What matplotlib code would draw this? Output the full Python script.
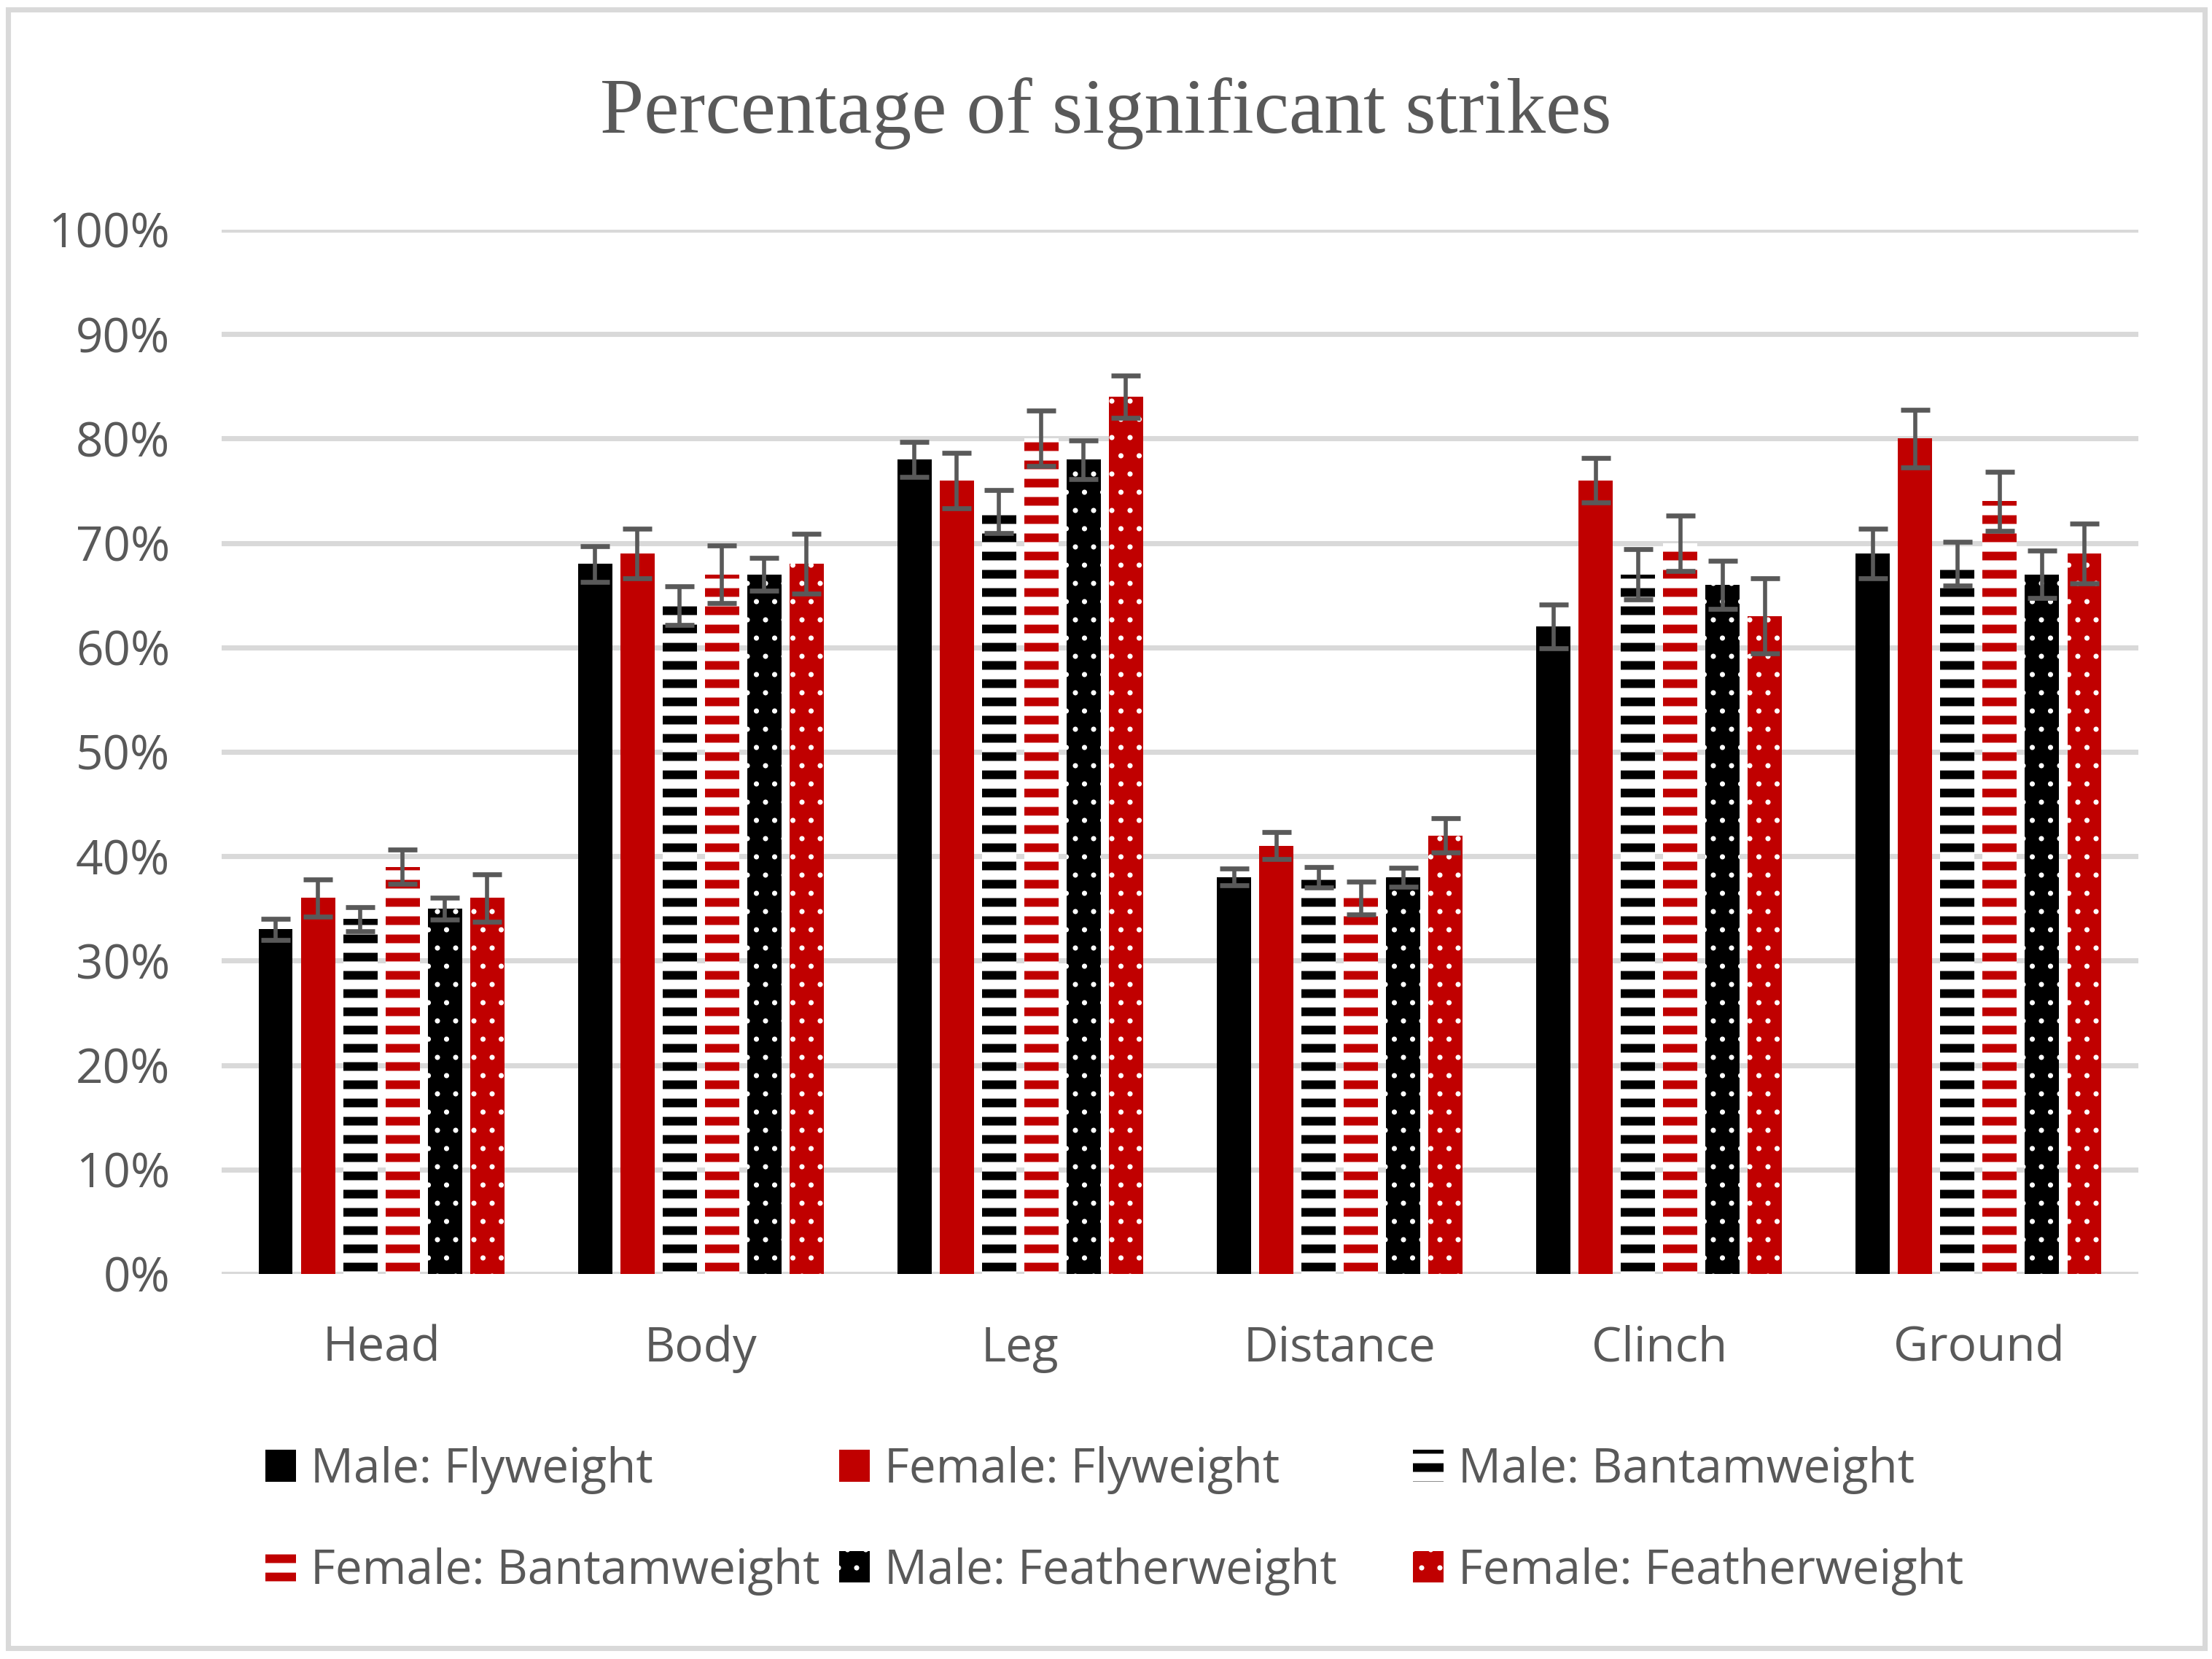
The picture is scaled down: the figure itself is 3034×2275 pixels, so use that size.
import matplotlib
matplotlib.use('Agg')
import matplotlib.pyplot as plt
from matplotlib.patches import Rectangle
import numpy as np

# Data (percent)
categories = ['Head', 'Body', 'Leg', 'Distance', 'Clinch', 'Ground']
series_labels = ['Male: Flyweight', 'Female: Flyweight', 'Male: Bantamweight',
                 'Female: Bantamweight', 'Male: Featherweight', 'Female: Featherweight']

male_fly = [33, 68, 78, 38, 62, 69]
female_fly = [36, 69, 76, 41, 76, 80]
male_bantam = [34, 64, 73, 38, 67, 68]
female_bantam = [39, 67, 80, 36, 70, 74]
male_feather = [35, 67, 78, 38, 66, 67]
female_feather = [36, 68, 84, 42, 63, 69]

male_fly_err = [1.0, 1.7, 1.7, 0.8, 2.1, 2.4]
female_fly_err = [1.8, 2.4, 2.65, 1.3, 2.15, 2.75]
male_bantam_err = [1.15, 1.85, 2.05, 1.0, 2.4, 2.1]
female_bantam_err = [1.65, 2.75, 2.65, 1.55, 2.65, 2.85]
male_feather_err = [1.05, 1.6, 1.85, 0.9, 2.3, 2.3]
female_feather_err = [2.25, 2.85, 2.05, 1.65, 3.6, 2.85]

values = [male_fly, female_fly, male_bantam, female_bantam, male_feather, female_feather]
errors = [male_fly_err, female_fly_err, male_bantam_err, female_bantam_err,
          male_feather_err, female_feather_err]

BLACK = '#000000'
RED = '#C00000'
GREY_TXT = '#595959'
GRID = '#D9D9D9'

# face colour, hatch colour, hatch, hatch linewidth
styles = [
    (BLACK, BLACK, None, 1.0),
    (RED, RED, None, 1.0),
    ('white', BLACK, '-', 5.7),
    ('white', RED, '-', 5.7),
    (BLACK, 'white', '.', 1.0),
    (RED, 'white', '.', 1.0),
]

FONT = 'Open Sans'
FS = 31.5

DPI = 150
W, H = 3034, 2275
fig = plt.figure(figsize=(W / DPI, H / DPI), dpi=DPI)
ax = fig.add_axes([304 / W, 528 / H, (2933 - 304) / W, (1747 - 315) / H])

x = np.arange(len(categories))
step = 0.1324
width = 0.107

bars = []
for i, (vals, errs) in enumerate(zip(values, errors)):
    face, hcol, hatch, hlw = styles[i]
    b = ax.bar(x + (i - 2.5) * step, vals, width, color=face, edgecolor=hcol,
               linewidth=0, hatch=hatch, label=series_labels[i],
               yerr=errs, error_kw=dict(ecolor=GREY_TXT, elinewidth=2.7,
                                        capsize=9.4, capthick=3.2))
    for p in b.patches:
        if hasattr(p, 'set_hatch_linewidth'):
            p.set_hatch_linewidth(hlw)
    bars.append(b)

ax.set_xlim(-0.5, len(categories) - 0.5)
ax.set_ylim(0, 100)
ax.set_yticks(range(0, 101, 10))
ax.set_yticklabels([f'{t}%' for t in range(0, 101, 10)])
ax.set_xticks(x)
ax.set_xticklabels(categories)
ax.set_axisbelow(True)
ax.grid(axis='y', color=GRID, linewidth=3.4)
ax.grid(axis='x', visible=False)
for s in ax.spines.values():
    s.set_visible(False)
ax.tick_params(axis='y', length=0, pad=34, labelsize=FS, labelcolor=GREY_TXT)
ax.tick_params(axis='x', length=0, pad=33.5, labelsize=FS, labelcolor=GREY_TXT)
for lab in ax.get_xticklabels() + ax.get_yticklabels():
    lab.set_fontfamily(FONT)

# Title
fig.text(0.5, (H - 182) / H, 'Percentage of significant strikes', ha='center',
         va='baseline', fontsize=52, family='Liberation Serif', color=GREY_TXT)

# Legend: three columns, two rows (row-wise order as in the original)
columns = [[0, 3], [1, 4], [2, 5]]
col_left = [364, 1151, 1938]
for col, xl in zip(columns, col_left):
    leg = fig.legend(handles=[bars[i] for i in col],
                     labels=[series_labels[i] for i in col],
                     loc='upper left', bbox_to_anchor=(xl / W, (H - 1983) / H),
                     ncol=1, frameon=False, borderpad=0, borderaxespad=0,
                     handlelength=0.64, handleheight=0.64, handletextpad=0.3,
                     labelspacing=1.11, prop={'family': FONT, 'size': FS})
    for t in leg.get_texts():
        t.set_color(GREY_TXT)
    for hnd, i in zip(leg.legend_handles, col):
        if hasattr(hnd, 'set_hatch_linewidth'):
            hnd.set_hatch_linewidth(styles[i][3])

# Outer chart border
fig.patches.append(Rectangle((11 / W, 15 / H), 3013 / W, 2247 / H,
                             transform=fig.transFigure, fill=False,
                             edgecolor=GRID, linewidth=3.4))

fig.savefig('out.png', dpi=DPI, facecolor='white')
